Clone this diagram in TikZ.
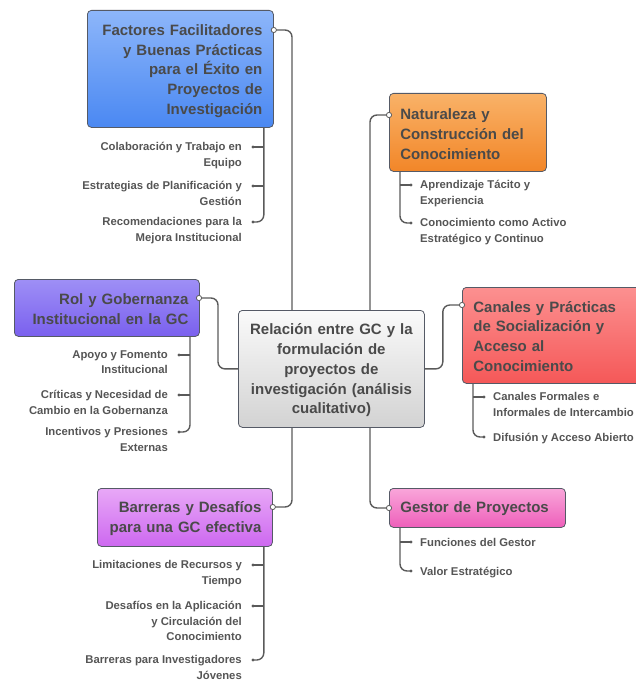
\documentclass[tikz,border=0pt]{standalone}
\usepackage{fontspec}
\setmainfont{Liberation Sans}
\usetikzlibrary{calc,positioning}

\definecolor{linkgray}{HTML}{5A5A5A}
\definecolor{boxline}{HTML}{555A66}
\definecolor{headtext}{HTML}{4A4A4A}
\definecolor{leaftext}{HTML}{555555}

\tikzset{
  box/.style={rounded corners=4pt,draw=boxline,line width=0.8pt,
    font=\bfseries\fontsize{15}{19.8}\selectfont,text=headtext,
    inner xsep=11pt,inner ysep=0pt},
  leafR/.style={anchor=north east,inner sep=0pt,align=right,
    font=\bfseries\fontsize{11.3}{15.2}\selectfont,text=leaftext,
    execute at begin node=\rule{0pt}{8.5pt}},
  leafL/.style={anchor=north west,inner sep=0pt,align=left,
    font=\bfseries\fontsize{11.3}{15.2}\selectfont,text=leaftext,
    execute at begin node=\rule{0pt}{8.5pt}},
  link/.style={draw=linkgray,line width=1.4pt,rounded corners=7pt},
  port/.style={draw=linkgray,fill=white,line width=0.8pt},
}

\begin{document}
\begin{tikzpicture}[x=1pt,y=-1pt]
\clip (0,0) rectangle (636,682);

% main topic
\node[box,anchor=north west,minimum width=186pt,minimum height=117pt,
  text width=170pt,inner xsep=8pt,align=center,top color=white!60!gray!10,bottom color=gray!35]
  (rel) at (238,310)
  {\rule{0pt}{14pt}Relación entre GC y la\\formulación de\\proyectos de\\investigación (análisis\\cualitativo)};

% branches
\node[box,anchor=north west,minimum width=186pt,minimum height=117pt,
  text width=164pt,align=right,top color={rgb,255:red,141;green,182;blue,250},
  bottom color={rgb,255:red,74;green,136;blue,242}]
  (fac) at (87,10)
  {\rule{0pt}{15pt}Factores Facilitadores\\y Buenas Prácticas\\para el Éxito en\\Proyectos de\\Investigación};
\node[box,anchor=north west,minimum width=157pt,minimum height=78pt,
  text width=135pt,align=left,top color={rgb,255:red,249;green,178;blue,104},
  bottom color={rgb,255:red,242;green,134;blue,40}]
  (nat) at (389,93)
  {\rule{0pt}{14pt}Naturaleza y\\Construcción del\\Conocimiento};
\node[box,anchor=north west,minimum width=185pt,minimum height=57pt,
  text width=163pt,align=right,top color={rgb,255:red,158;green,143;blue,246},
  bottom color={rgb,255:red,122;green,96;blue,238}]
  (rol) at (14,279)
  {\rule{0pt}{13pt}Rol y Gobernanza\\Institucional en la GC};
\node[box,anchor=north west,minimum width=186pt,minimum height=96pt,
  text width=164pt,align=left,top color={rgb,255:red,252;green,144;blue,144},
  bottom color={rgb,255:red,245;green,88;blue,88}]
  (can) at (462,287)
  {\rule{0pt}{13pt}Canales y Prácticas\\de Socialización y\\Acceso al\\Conocimiento};
\node[box,anchor=north west,minimum width=175pt,minimum height=58pt,
  text width=153pt,align=right,top color={rgb,255:red,232;green,168;blue,247},
  bottom color={rgb,255:red,205;green,104;blue,240}]
  (bar) at (97,488)
  {\rule{0pt}{13pt}Barreras y Desafíos\\para una GC efectiva};
\node[box,anchor=north west,minimum width=176pt,minimum height=39pt,
  text width=154pt,align=left,top color={rgb,255:red,249;green,166;blue,218},
  bottom color={rgb,255:red,238;green,95;blue,186}]
  (ges) at (389,488)
  {\rule{0pt}{13pt}Gestor de Proyectos};

% ports
\coordinate (facP) at ($(fac.north east)+(0,20)$);
\coordinate (natP) at ($(nat.north west)+(0,22)$);
\coordinate (rolP) at ($(rol.north west)+(185,19)$);
\coordinate (canP) at ($(can.north west)+(0,18)$);
\coordinate (barP) at ($(bar.north east)+(0,19)$);
\coordinate (gesP) at ($(ges.north west)+(0,20)$);

% connectors to the main topic
\draw[link] (facP) -| ($(rel.north west)+(54,0)$);
\draw[link] (natP) -| ($(rel.north west)+(132,0)$);
\draw[link] (rolP) -- ++(19,0) |- (rel.west);
\draw[link] (rel.east) -- ++(18,0) |- (canP);
\draw[link] (barP) -| ($(rel.south west)+(54,0)$);
\draw[link] (gesP) -| ($(rel.south west)+(132,0)$);

% Factores
\coordinate (facT) at ($(fac.south east)+(-10,0)$);
\coordinate (facA) at (253,147);
\coordinate (facB) at (253,186);
\coordinate (facC) at (253,222);
\node[leafR] (facAt) at ($(facA)+(-11,-4.5)$) {Colaboración y Trabajo en\\Equipo};
\node[leafR] (facBt) at ($(facB)+(-11,-4.5)$) {Estrategias de Planificación y\\Gestión};
\node[leafR] (facCt) at ($(facC)+(-11,-4.5)$) {Recomendaciones para la\\Mejora Institucional};
\draw[link] (facT) |- (facC);
\draw[link] (facT |- facA) -- (facA);
\draw[link] (facT |- facB) -- (facB);

% Naturaleza
\coordinate (natT) at ($(nat.south west)+(11,0)$);
\coordinate (natA) at (411,185);
\coordinate (natB) at (411,223);
\node[leafL] (natAt) at ($(natA)+(9,-4.5)$) {Aprendizaje Tácito y\\Experiencia};
\node[leafL] (natBt) at ($(natB)+(9,-4.5)$) {Conocimiento como Activo\\Estratégico y Continuo};
\draw[link] (natT) |- (natB);
\draw[link] (natT |- natA) -- (natA);

% Rol
\coordinate (rolT) at ($(rol.south west)+(176,0)$);
\coordinate (rolA) at (179,355);
\coordinate (rolB) at (179,395);
\coordinate (rolC) at (179,432);
\node[leafR] (rolAt) at ($(rolA)+(-11,-4.5)$) {Apoyo y Fomento\\Institucional};
\node[leafR] (rolBt) at ($(rolB)+(-11,-4.5)$) {Críticas y Necesidad de\\Cambio en la Gobernanza};
\node[leafR] (rolCt) at ($(rolC)+(-11,-4.5)$) {Incentivos y Presiones\\Externas};
\draw[link] (rolT) |- (rolC);
\draw[link] (rolT |- rolA) -- (rolA);
\draw[link] (rolT |- rolB) -- (rolB);

% Canales
\coordinate (canT) at ($(can.south west)+(11,0)$);
\coordinate (canA) at (484,397);
\coordinate (canB) at (484,437);
\node[leafL] (canAt) at ($(canA)+(9,-4.5)$) {Canales Formales e\\Informales de Intercambio};
\node[leafL] (canBt) at ($(canB)+(9,-4.5)$) {Difusión y Acceso Abierto};
\draw[link] (canT) |- (canB);
\draw[link] (canT |- canA) -- (canA);

% Barreras
\coordinate (barT) at ($(bar.south east)+(-9,0)$);
\coordinate (barA) at (253,565);
\coordinate (barB) at (253,606);
\coordinate (barC) at (253,660);
\node[leafR] (barAt) at ($(barA)+(-11,-4.5)$) {Limitaciones de Recursos y\\Tiempo};
\node[leafR] (barBt) at ($(barB)+(-11,-4.5)$) {Desafíos en la Aplicación\\y Circulación del\\Conocimiento};
\node[leafR] (barCt) at ($(barC)+(-11,-4.5)$) {Barreras para Investigadores\\Jóvenes};
\draw[link] (barT) |- (barC);
\draw[link] (barT |- barA) -- (barA);
\draw[link] (barT |- barB) -- (barB);

% Gestor
\coordinate (gesT) at ($(ges.south west)+(11,0)$);
\coordinate (gesA) at (411,542);
\coordinate (gesB) at (411,571);
\node[leafL] (gesAt) at ($(gesA)+(9,-4.5)$) {Funciones del Gestor};
\node[leafL] (gesBt) at ($(gesB)+(9,-4.5)$) {Valor Estratégico};
\draw[link] (gesT) |- (gesB);
\draw[link] (gesT |- gesA) -- (gesA);

% tips and ports on top
\foreach \t in {facA,facB,facC,natA,natB,rolA,rolB,rolC,canA,canB,barA,barB,barC,gesA,gesB}
  \fill[linkgray] (\t) circle (1.6);
\foreach \p in {facP,natP,rolP,canP,barP,gesP}
  \draw[port] (\p) circle (2.6);
\end{tikzpicture}
\end{document}
